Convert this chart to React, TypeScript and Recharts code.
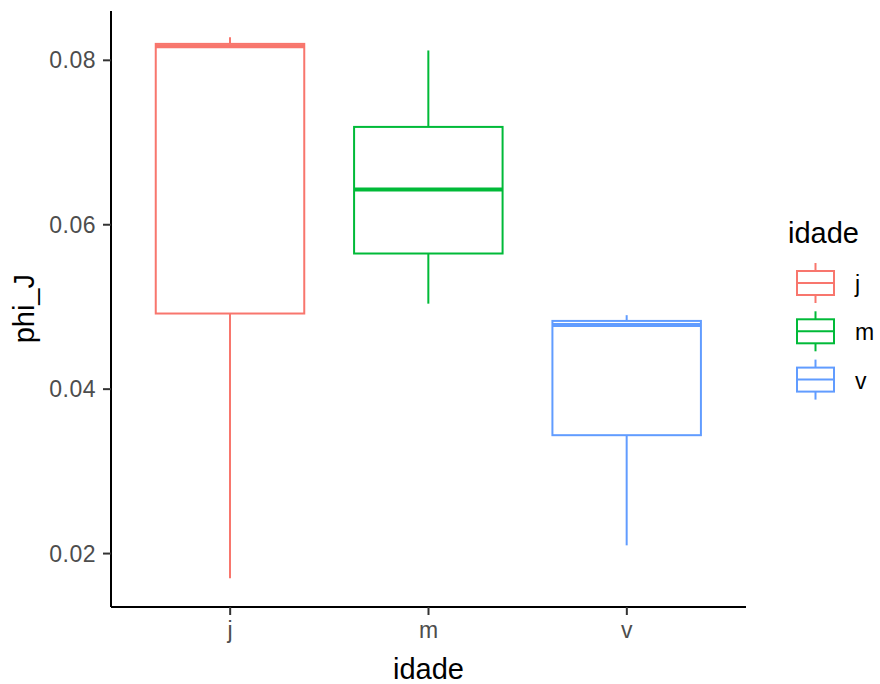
import React from 'react';
import { ComposedChart, Bar, XAxis, YAxis } from 'recharts';

const categories = ['j', 'm', 'v'];
const mins = [0.0170, 0.0504, 0.0210];
const q1s = [0.0492, 0.0565, 0.0344];
const medians = [0.0817, 0.0643, 0.0478];
const q3s = [0.0820, 0.0719, 0.0483];
const maxs = [0.0828, 0.0812, 0.0490];
const colors = ['#F8766D', '#00BA38', '#619CFF'];
const yTicks = [0.02, 0.04, 0.06, 0.08];
const yDomain = [0.0135, 0.086];

const data = categories.map((c, i) => ({
  cat: c,
  range: [mins[i], maxs[i]],
  min: mins[i],
  q1: q1s[i],
  median: medians[i],
  q3: q3s[i],
  max: maxs[i],
  color: colors[i],
}));

const FONT = '"Liberation Sans", Arial, sans-serif';

const BoxShape = (props: any) => {
  const { x, y, width, height, payload } = props;
  if (!payload) return null;
  const { min, max, q1, median, q3, color } = payload;
  const top = Math.min(y, y + height);
  const h = Math.abs(height);
  const toY = (v: number) => top + ((max - v) / (max - min)) * h;
  const cx = x + width / 2;
  const bw = width * 0.75;
  const left = cx - bw / 2;
  return (
    <g>
      <line x1={cx} x2={cx} y1={toY(max)} y2={toY(q3)} stroke={color} strokeWidth={2} />
      <line x1={cx} x2={cx} y1={toY(q1)} y2={toY(min)} stroke={color} strokeWidth={2} />
      <rect x={left} y={toY(q3)} width={bw} height={toY(q1) - toY(q3)} fill="#ffffff" stroke={color} strokeWidth={2} />
      <line x1={left} x2={left + bw} y1={toY(median)} y2={toY(median)} stroke={color} strokeWidth={4} />
    </g>
  );
};

const LegendBox = () => (
  <svg width={880} height={684} style={{ position: 'absolute', left: 0, top: 0, pointerEvents: 'none' }}>
    <text x={788} y={243} fontFamily={FONT} fontSize={29} fill="#000">idade</text>
    {categories.map((c, i) => {
      const cy = 283 + 48.3 * i;
      return (
        <g key={c}>
          <line x1={815.5} x2={815.5} y1={cy - 20} y2={cy + 20} stroke={colors[i]} strokeWidth={2} />
          <rect x={797} y={cy - 12} width={37} height={24} fill="#fff" stroke={colors[i]} strokeWidth={2} />
          <line x1={797} x2={834} y1={cy} y2={cy} stroke={colors[i]} strokeWidth={2} />
          <text x={855} y={cy + 9} fontFamily={FONT} fontSize={23} fill="#000">{c}</text>
        </g>
      );
    })}
    <text x={428.5} y={679} textAnchor="middle" fontFamily={FONT} fontSize={29} fill="#000">idade</text>
    <text transform="translate(34, 308.7) rotate(-90)" textAnchor="middle" fontFamily={FONT} fontSize={29} fill="#000">phi_J</text>
  </svg>
);

export default function App() {
  return (
    <div style={{ position: 'absolute', left: 0, top: 0, width: 880, height: 684, background: '#fff' }}>
      <ComposedChart
        width={880}
        height={684}
        data={data}
        margin={{ top: 11, right: 134, bottom: 0, left: 0 }}
        barCategoryGap={0}
        barGap={0}
      >
        <XAxis
          dataKey="cat"
          type="category"
          padding={{ left: 20, right: 20 }}
          height={77}
          tickSize={8}
          tickMargin={7}
          axisLine={{ stroke: '#000', strokeWidth: 2 }}
          tickLine={{ stroke: '#333', strokeWidth: 2 }}
          tick={{ fill: '#4D4D4D', fontSize: 23, fontFamily: FONT }}
        />
        <YAxis
          type="number"
          domain={yDomain}
          allowDataOverflow
          ticks={yTicks}
          width={111}
          tickSize={8}
          tickMargin={7}
          tickFormatter={(v: number) => v.toFixed(2)}
          axisLine={{ stroke: '#000', strokeWidth: 2 }}
          tickLine={{ stroke: '#333', strokeWidth: 2 }}
          tick={{ fill: '#4D4D4D', fontSize: 23, fontFamily: FONT, letterSpacing: 0.5 }}
        />
        <Bar dataKey="range" shape={BoxShape} isAnimationActive={false} />
      </ComposedChart>
      <LegendBox />
    </div>
  );
}
